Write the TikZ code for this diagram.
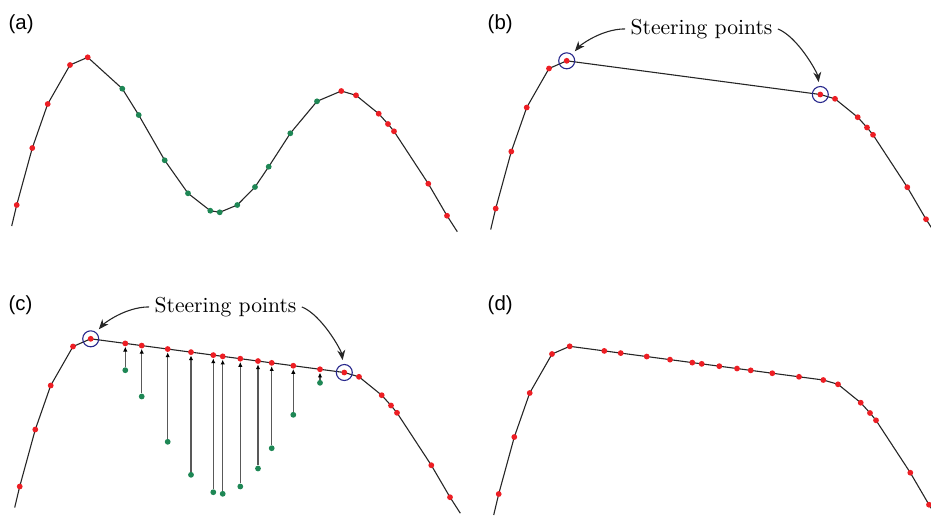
\documentclass[tikz,border=0pt]{standalone}
\usepackage{fontspec}
\newfontfamily\tagfont{Liberation Sans}
\usetikzlibrary{arrows.meta}
\definecolor{ptred}{RGB}{237,30,36}
\definecolor{ptgreen}{RGB}{30,135,85}
\definecolor{ringblue}{RGB}{40,40,140}

% profile points of panel (a), in pixels (y downwards)
\newcommand{\leftpts}{16.7/205,32.3/148,47.7/104,70/65}
\newcommand{\midpts}{122.3/88.7,138.7/115,164.7/160.3,188/193.3,210.3/210.7,219.7/212.3,237.3/205,255/187,268.7/166.7,290.3/133.3,317/101.3}
\newcommand{\rightpts}{356/95.3,378.7/113.7,388/124,394/131.3,428.3/183.7,447/215.7}

% profile with the dip replaced by the chord between the peaks
\newcommand{\flatline}{%
  \draw[curve] (11.7,226) \foreach \x/\y in \leftpts {-- (\x,\y)} -- (87.7,57.3) -- (341.3,91)
    \foreach \x/\y in \rightpts {-- (\x,\y)} -- (457.3,231.7);}
% red dots outside the dip, #1 = panel prefix
\newcommand{\sidedots}[1]{%
  \foreach \x/\y [count=\i] in \leftpts {\node[rdot] (#1l\i) at (\x,\y) {};}
  \foreach \x/\y [count=\i] in \rightpts {\node[rdot] (#1r\i) at (\x,\y) {};}
  \node[rdot] (#1pk1) at (87.7,57.3) {};
  \node[rdot] (#1pk2) at (341.3,91) {};}
% rings on the peaks and their label
\newcommand{\steering}[1]{%
  \node[ring] (#1c1) at (#1pk1) {};
  \node[ring] (#1c2) at (#1pk2) {};
  \node[steer] (#1s) at (222.5,30.8) {Steering points};
  \draw[pointer] (#1s.west) .. controls +(-25,0) and +(12,-14) .. (#1c1);
  \draw[pointer] (#1s.east) .. controls +(20,8) and +(-3,-22) .. (#1c2);}

\begin{document}
\begin{tikzpicture}[x=0.5pt, y=-0.5pt,
  curve/.style={line width=0.55pt, black!85},
  rdot/.style={circle, fill=ptred, inner sep=0pt, minimum size=2.9pt},
  gdot/.style={circle, fill=ptgreen, inner sep=0pt, minimum size=2.9pt},
  ring/.style={circle, draw=ringblue, line width=0.55pt, inner sep=0pt, minimum size=8pt},
  tag/.style={anchor=base west, inner sep=0pt, font=\tagfont\fontsize{10.2}{12}\selectfont},
  steer/.style={anchor=base, inner sep=2.5pt, font=\fontsize{10.8}{13}\selectfont},
  pointer/.style={-{Stealth[length=5pt, width=4pt]}, line width=0.55pt, black!85, shorten >=2pt},
  lift/.style={-{Latex[length=2.4pt, width=2.2pt, black]}, black!65, line width=0.7pt}
]
\clip (0,0) rectangle (931,516);
\node[tag] (ta) at (8.3,29) {(a)};
\node[tag] (tb) at (487.3,29) {(b)};
\node[tag] (tc) at (8.3,310.7) {(c)};
\node[tag] (td) at (487.3,310.7) {(d)};

% (a) measured profile
\begin{scope}
  \draw[curve] (11.7,226) \foreach \x/\y in \leftpts {-- (\x,\y)} -- (87.7,57.3)
    \foreach \x/\y in \midpts {-- (\x,\y)} -- (341.3,91)
    \foreach \x/\y in \rightpts {-- (\x,\y)} -- (457.3,231.7);
  \foreach \x/\y [count=\i] in \midpts {\node[gdot] (ag\i) at (\x,\y) {};}
  \sidedots{a}
\end{scope}

% (b) chord between the steering points
\begin{scope}[shift={(479,3.5)}]
  \flatline
  \sidedots{b}
  \steering{b}
\end{scope}

% (c) dip points lifted onto the chord
\begin{scope}[shift={(3,281.5)}]
  \flatline
  \foreach \x/\y [count=\i] in \midpts {
    \pgfmathsetmacro\yl{57.3+(\x-87.7)*33.7/253.6}
    \node[gdot] (cg\i) at (\x,\y) {};
    \node[rdot] (cr\i) at (\x,\yl) {};
    \draw[lift] (cg\i) -- (cr\i);}
  \sidedots{c}
  \steering{c}
\end{scope}

% (d) result
\begin{scope}[shift={(482,289)}]
  \flatline
  \foreach \x/\y [count=\i] in \midpts {
    \pgfmathsetmacro\yl{57.3+(\x-87.7)*33.7/253.6}
    \node[rdot] (dr\i) at (\x,\yl) {};}
  \sidedots{d}
\end{scope}
\end{tikzpicture}
\end{document}
